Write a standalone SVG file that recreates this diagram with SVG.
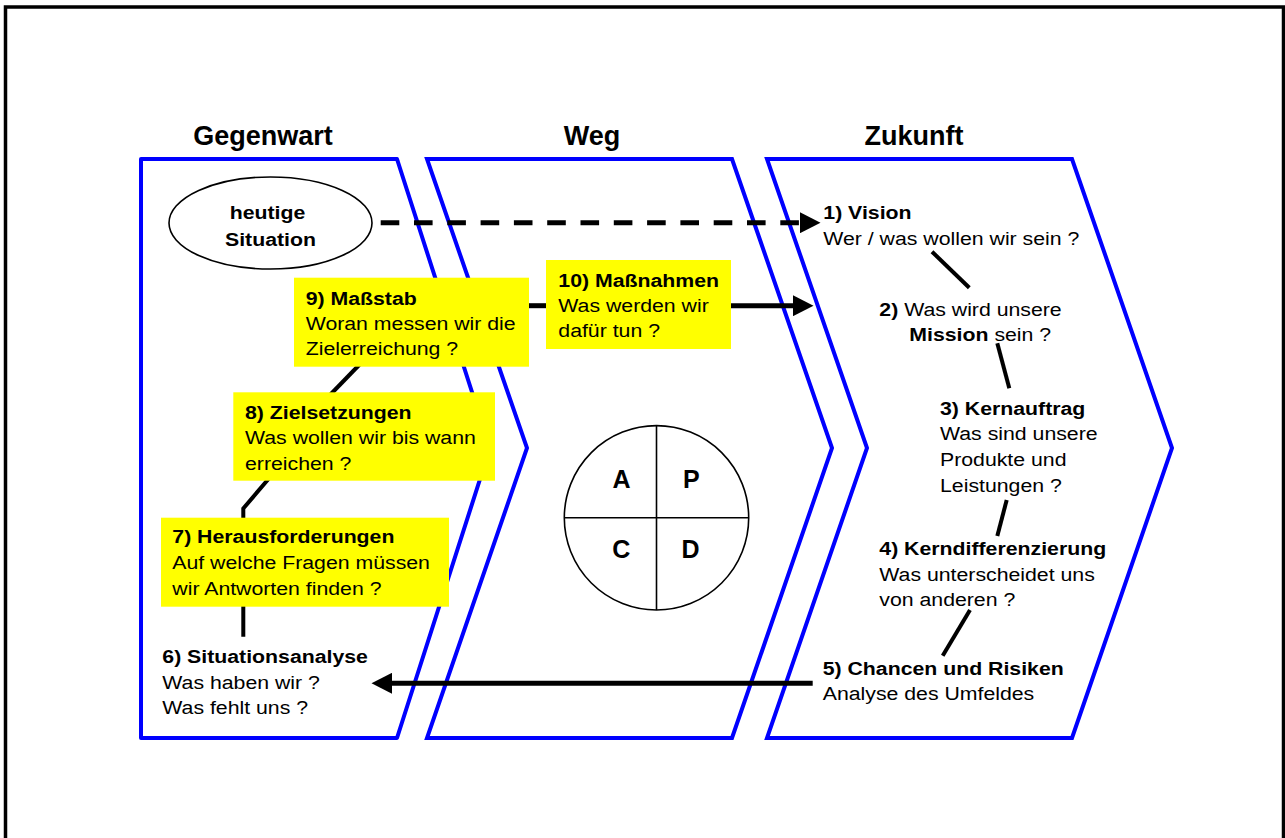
<svg xmlns="http://www.w3.org/2000/svg" width="1285" height="838" viewBox="0 0 1285 838">
  <style>
    .frame { fill: none; stroke: #000; stroke-width: 3.5; }
    .phase { fill: #fff; stroke: #0000ff; stroke-width: 4; stroke-linejoin: miter; }
    .box { fill: #ffff00; stroke: none; }
    .conn { fill: none; stroke: #000; stroke-width: 4; }
    .arrow { fill: none; stroke: #000; stroke-width: 5; }
    .dash { fill: none; stroke: #000; stroke-width: 5; stroke-dasharray: 18.6 14.7; }
    .thin { fill: #fff; stroke: #000; stroke-width: 1.6; }
    text { font-family: "Liberation Sans", Arial, sans-serif; fill: #000; }
    .t { font-size: 19px; }
    .b { font-weight: bold; }
    .title { font-size: 27px; font-weight: bold; text-anchor: middle; }
    .pdca { font-size: 25px; font-weight: bold; text-anchor: middle; }
  </style>
  <defs>
    <marker id="head" markerUnits="userSpaceOnUse" markerWidth="21" markerHeight="21" refX="0" refY="10.5" orient="auto">
      <path d="M0,0 L20.5,10.5 L0,21 z" fill="#000"/>
    </marker>
  </defs>

  <rect class="frame" x="5.5" y="7" width="1278" height="900"/>

  <!-- column headings -->
  <g id="headings">
    <text class="title" x="263" y="145">Gegenwart</text>
    <text class="title" x="592" y="145">Weg</text>
    <text class="title" x="914" y="145">Zukunft</text>
  </g>

  <!-- the three phase arrows -->
  <g id="phase-gegenwart">
    <polygon class="phase" style="stroke-linejoin: round" points="141,159 397,159 490,448 397,738 141,738"/>
  </g>
  <g id="phase-weg">
    <polygon class="phase" points="427,159 732,159 832,448 732,738 427,738 527,448"/>
  </g>
  <g id="phase-zukunft">
    <polygon class="phase" points="767,159 1072,159 1172,448 1072,738 767,738 867,448"/>
  </g>

  <!-- connectors -->
  <g id="connectors">
    <line class="dash" x1="380.7" y1="222.7" x2="800" y2="222.7" marker-end="url(#head)"/>
    <line class="arrow" x1="529" y1="305.7" x2="546" y2="305.7"/>
    <line class="arrow" x1="731" y1="305.7" x2="793" y2="305.7" marker-end="url(#head)"/>
    <line class="arrow" x1="812.7" y1="683.3" x2="392" y2="683.3" marker-end="url(#head)"/>
    <line class="conn" x1="362" y1="362" x2="329" y2="396"/>
    <polyline class="conn" points="271,476 243.3,508.5 243.3,636.7"/>
    <line class="conn" x1="932" y1="251.7" x2="969.3" y2="287.7"/>
    <line class="conn" x1="997.3" y1="343.3" x2="1009.3" y2="388.3"/>
    <line class="conn" x1="1006.7" y1="500" x2="997.3" y2="536"/>
    <line class="conn" x1="970" y1="610" x2="942.7" y2="655.7"/>
  </g>

  <!-- Gegenwart -->
  <g id="heutige-situation">
    <ellipse class="thin" cx="270.5" cy="223" rx="101.5" ry="46"/>
    <text class="t b" text-anchor="middle" transform="translate(270.5,219) scale(1.12,1)">
      <tspan x="0">heutige</tspan>
      <tspan x="0" dy="27">Situation</tspan>
    </text>
  </g>

  <g id="n9-massstab">
    <rect class="box" x="294" y="277.7" width="235" height="89"/>
    <text class="t" transform="translate(305.7,305) scale(1.12,1)">
      <tspan x="0" class="b">9) Maßstab</tspan>
      <tspan x="0" dy="25">Woran messen wir die</tspan>
      <tspan x="0" dy="25">Zielerreichung ?</tspan>
    </text>
  </g>

  <g id="n8-zielsetzungen">
    <rect class="box" x="233.3" y="392.3" width="261.7" height="88.4"/>
    <text class="t" transform="translate(245,419) scale(1.12,1)">
      <tspan x="0" class="b">8) Zielsetzungen</tspan>
      <tspan x="0" dy="25.5">Was wollen wir bis wann</tspan>
      <tspan x="0" dy="25.5">erreichen ?</tspan>
    </text>
  </g>

  <g id="n7-herausforderungen">
    <rect class="box" x="161" y="517.7" width="288" height="89"/>
    <text class="t" transform="translate(172.3,543.3) scale(1.12,1)">
      <tspan x="0" class="b">7) Herausforderungen</tspan>
      <tspan x="0" dy="26">Auf welche Fragen müssen</tspan>
      <tspan x="0" dy="25.7">wir Antworten finden ?</tspan>
    </text>
  </g>

  <g id="n6-situationsanalyse">
    <text class="t" transform="translate(162.3,663.3) scale(1.12,1)">
      <tspan x="0" class="b">6) Situationsanalyse</tspan>
      <tspan x="0" dy="26">Was haben wir ?</tspan>
      <tspan x="0" dy="25">Was fehlt uns ?</tspan>
    </text>
  </g>

  <!-- Weg -->
  <g id="n10-massnahmen">
    <rect class="box" x="546" y="260" width="185" height="89"/>
    <text class="t" transform="translate(558.3,286.7) scale(1.12,1)">
      <tspan x="0" class="b">10) Maßnahmen</tspan>
      <tspan x="0" dy="25.3">Was werden wir</tspan>
      <tspan x="0" dy="24.7">dafür tun ?</tspan>
    </text>
  </g>

  <g id="pdca">
    <circle class="thin" cx="656.5" cy="517.8" r="92.2" stroke-width="2"/>
    <line class="thin" x1="656.5" y1="425.6" x2="656.5" y2="610"/>
    <line class="thin" x1="564.3" y1="517.8" x2="748.7" y2="517.8"/>
    <text class="pdca" x="621.5" y="487.7">A</text>
    <text class="pdca" x="691.3" y="487.7">P</text>
    <text class="pdca" x="621.3" y="558.3">C</text>
    <text class="pdca" x="690.5" y="558.3">D</text>
  </g>

  <!-- Zukunft -->
  <g id="n1-vision">
    <text class="t" transform="translate(823.3,219) scale(1.12,1)">
      <tspan x="0" class="b">1) Vision</tspan>
      <tspan x="0" dy="26.3">Wer / was wollen wir sein ?</tspan>
    </text>
  </g>

  <g id="n2-mission">
    <text class="t" transform="translate(879.3,315.7) scale(1.12,1)">
      <tspan x="0" class="b">2)</tspan><tspan> Was wird unsere</tspan>
      <tspan x="26.8" dy="25.6" class="b">Mission</tspan><tspan> sein ?</tspan>
    </text>
  </g>

  <g id="n3-kernauftrag">
    <text class="t" transform="translate(940,415) scale(1.12,1)">
      <tspan x="0" class="b">3) Kernauftrag</tspan>
      <tspan x="0" dy="25.5">Was sind unsere</tspan>
      <tspan x="0" dy="25.5">Produkte und</tspan>
      <tspan x="0" dy="26">Leistungen ?</tspan>
    </text>
  </g>

  <g id="n4-kerndifferenzierung">
    <text class="t" transform="translate(879.3,555) scale(1.12,1)">
      <tspan x="0" class="b">4) Kerndifferenzierung</tspan>
      <tspan x="0" dy="25.7">Was unterscheidet uns</tspan>
      <tspan x="0" dy="25.3">von anderen ?</tspan>
    </text>
  </g>

  <g id="n5-chancen-risiken">
    <text class="t" transform="translate(822.7,675) scale(1.12,1)">
      <tspan x="0" class="b">5) Chancen und Risiken</tspan>
      <tspan x="0" dy="25">Analyse des Umfeldes</tspan>
    </text>
  </g>
</svg>
